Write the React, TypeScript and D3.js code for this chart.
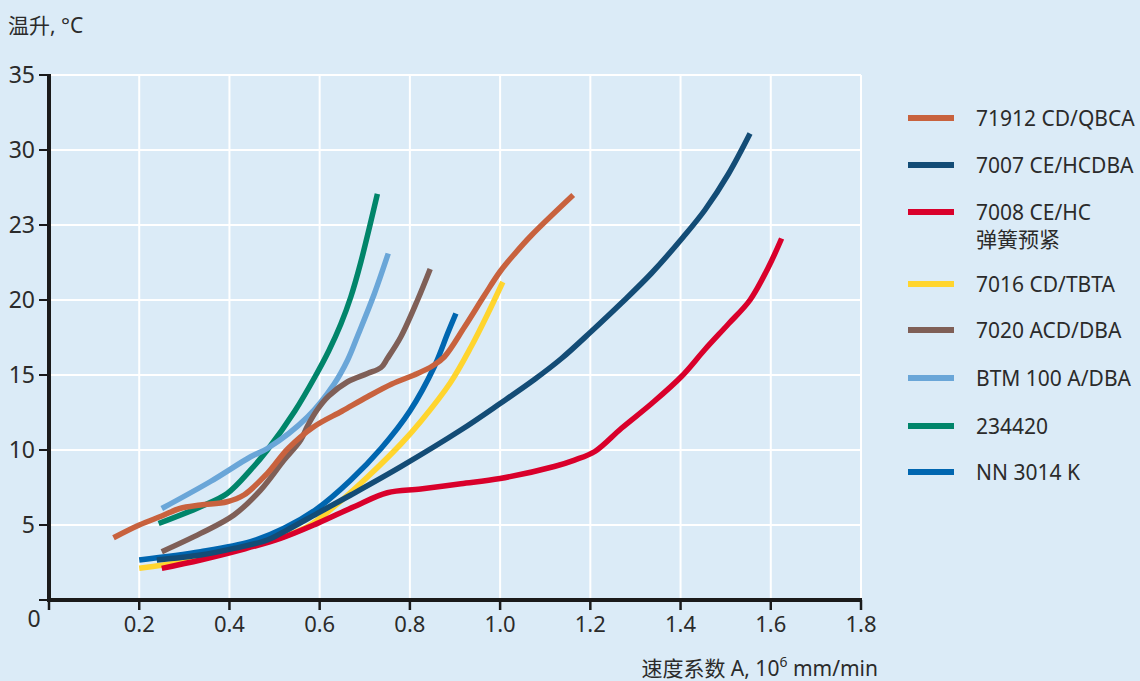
import React from "react";
import * as d3 from "d3";

type Pt = [number, number];

const orange71912: Pt[] = [[0.143,4.15],[0.2,5.0],[0.25,5.6],[0.29,6.1],[0.336,6.33],[0.395,6.55],[0.432,7.0],[0.484,8.44],[0.53,10.1],[0.587,11.55],[0.65,12.6],[0.706,13.55],[0.76,14.4],[0.817,15.1],[0.85,15.6],[0.876,16.2],[0.921,18.2],[0.965,20.3],[1.0,21.9],[1.03,23],[1.069,24.3],[1.162,27.0]];
const navy7007: Pt[] = [[0.239,2.67],[0.336,3.0],[0.41,3.44],[0.484,4.0],[0.528,4.67],[0.595,5.78],[0.669,7.0],[0.78,8.89],[0.913,11.33],[1.0,13.1],[1.076,14.7],[1.136,16.1],[1.202,17.9],[1.269,19.8],[1.336,21.8],[1.406,24.2],[1.454,26],[1.506,28.4],[1.554,31.1]];
const red7008: Pt[] = [[0.25,2.11],[0.336,2.67],[0.424,3.33],[0.513,4.11],[0.595,5.11],[0.676,6.22],[0.75,7.15],[0.824,7.4],[0.913,7.75],[1.0,8.1],[1.12,8.9],[1.165,9.33],[1.21,9.9],[1.269,11.45],[1.336,13.1],[1.402,14.9],[1.454,16.7],[1.506,18.4],[1.554,20],[1.595,22.2],[1.624,24.1]];
const yellow7016: Pt[] = [[0.2,2.11],[0.298,2.55],[0.41,3.33],[0.498,4.0],[0.573,4.89],[0.632,6.22],[0.706,8.2],[0.78,10.4],[0.824,11.9],[0.89,14.5],[0.936,16.9],[0.973,19.1],[1.006,21.2]];
const brown7020: Pt[] = [[0.25,3.22],[0.336,4.44],[0.41,5.67],[0.469,7.33],[0.521,9.33],[0.558,10.67],[0.573,11.6],[0.595,12.7],[0.62,13.6],[0.662,14.55],[0.706,15.1],[0.736,15.5],[0.75,16.1],[0.78,17.55],[0.817,20],[0.845,22.07]];
const lightBlueBTM: Pt[] = [[0.25,6.1],[0.358,7.9],[0.447,9.55],[0.484,10.1],[0.573,12.2],[0.632,14.4],[0.662,16],[0.684,17.6],[0.721,20.4],[0.752,23.1]];
const green234420: Pt[] = [[0.243,5.1],[0.336,6.22],[0.395,7.1],[0.447,8.67],[0.484,10],[0.545,12.6],[0.59,14.9],[0.62,16.6],[0.647,18.4],[0.669,20.2],[0.691,22.5],[0.728,27.07]];
const blueNN3014: Pt[] = [[0.2,2.67],[0.336,3.22],[0.447,3.89],[0.521,4.78],[0.595,6.1],[0.669,8],[0.736,10.1],[0.8,12.6],[0.854,15.55],[0.884,17.8],[0.902,19.1]];

const seriesNames = ["71912 CD/QBCA", "7007 CE/HCDBA", "7008 CE/HC|弹簧预紧", "7016 CD/TBTA", "7020 ACD/DBA", "BTM 100 A/DBA", "234420", "NN 3014 K"];
const seriesColors = ["#c8623e", "#134c76", "#d9002b", "#ffd52e", "#7f5f57", "#6aa6d8", "#00856a", "#0066b0"];
const seriesData = [orange71912, navy7007, red7008, yellow7016, brown7020, lightBlueBTM, green234420, blueNN3014];
// draw order (bottom to top) by series index
const drawOrder = [6, 5, 4, 3, 2, 7, 1, 0];

const xTicks = [0.2, 0.4, 0.6, 0.8, 1.0, 1.2, 1.4, 1.6, 1.8];
const xTickLabels = ["0.2", "0.4", "0.6", "0.8", "1.0", "1.2", "1.4", "1.6", "1.8"];
const yTicks = [5, 10, 15, 20, 25, 30, 35];
const yTickLabels = ["5", "10", "15", "20", "23", "30", "35"];

const yTitle = "温升, °C";
const xTitle = "速度系数 A, 10";
const xTitleSup = "6";
const xTitleTail = " mm/min";

const W = 1140, H = 681;
const FONT = "'Noto Sans', 'Noto Sans CJK SC', sans-serif";
const TXT = "#2b2b2b";

export default function App() {
  if (typeof document !== "undefined") document.body.style.margin = "0";
  const x = d3.scaleLinear().domain([0, 1.8]).range([49, 861]);
  const y = d3.scaleLinear().domain([0, 35]).range([600, 75]);
  const line = d3.line<Pt>().x(d => x(d[0])).y(d => y(d[1])).curve(d3.curveCatmullRom.alpha(0.5));
  const legendYs = [118, 165, 212, 284, 330, 378, 426, 472];

  return (
    <svg width={W} height={H} style={{ display: "block", background: "#dbebf7" }} fontFamily={FONT}>
      <rect x={0} y={0} width={W} height={H} fill="#dbebf7" />
      {/* grid */}
      {yTicks.map(v => (
        <line key={"gy" + v} x1={x(0)} x2={x(1.8)} y1={y(v)} y2={y(v)} stroke="#fff" strokeWidth={2} />
      ))}
      {xTicks.map(v => (
        <line key={"gx" + v} x1={x(v)} x2={x(v)} y1={y(0)} y2={y(35)} stroke="#fff" strokeWidth={2} />
      ))}
      {/* series */}
      {drawOrder.map(i => (
        <path key={"s" + i} d={line(seriesData[i]) || ""} fill="none" stroke={seriesColors[i]} strokeWidth={5.5} strokeLinecap="butt" strokeLinejoin="round" />
      ))}
      {/* axes */}
      <line x1={x(0)} x2={x(0)} y1={y(35) - 1} y2={y(0) + 2} stroke="#1a1a1a" strokeWidth={4} />
      <line x1={x(0) - 2} x2={x(1.8) + 1} y1={y(0)} y2={y(0)} stroke="#1a1a1a" strokeWidth={4} />
      {[0, ...yTicks].map(v => (
        <line key={"ty" + v} x1={x(0) - 10} x2={x(0)} y1={y(v)} y2={y(v)} stroke="#1a1a1a" strokeWidth={2} />
      ))}
      {[0, ...xTicks].map(v => (
        <line key={"tx" + v} x1={x(v)} x2={x(v)} y1={y(0)} y2={y(0) + 10} stroke="#1a1a1a" strokeWidth={2.5} />
      ))}
      {yTicks.map((v, i) => (
        <text key={"ly" + v} x={35} y={y(v) + 8} fontSize={23} textAnchor="end" fill={TXT}>{yTickLabels[i]}</text>
      ))}
      <text x={34} y={627} fontSize={23} textAnchor="middle" fill={TXT}>0</text>
      {xTicks.map((v, i) => (
        <text key={"lx" + v} x={x(v)} y={632} fontSize={22} textAnchor="middle" fill={TXT}>{xTickLabels[i]}</text>
      ))}
      <text x={8} y={33} fontSize={21} fill={TXT}>{yTitle}</text>
      <text x={878} y={676} fontSize={21} textAnchor="end" fill={TXT}>
        {xTitle}
        <tspan fontSize={14} dy={-9}>{xTitleSup}</tspan>
        <tspan dy={9}>{xTitleTail}</tspan>
      </text>
      {/* legend */}
      {seriesNames.map((name, i) => {
        const ly = legendYs[i];
        const parts = name.split("|");
        return (
          <g key={"lg" + i}>
            <line x1={908} x2={954} y1={ly} y2={ly} stroke={seriesColors[i]} strokeWidth={6} />
            {parts.map((p, j) => (
              <text key={j} x={976} y={ly + 8 + j * 27} fontSize={21} fill={TXT}>{p}</text>
            ))}
          </g>
        );
      })}
    </svg>
  );
}
